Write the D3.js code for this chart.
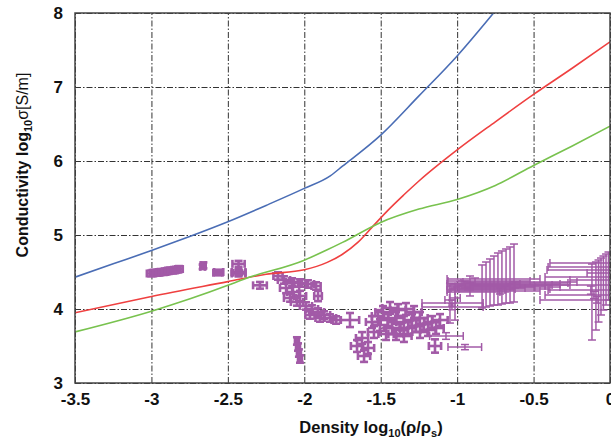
<!DOCTYPE html>
<html>
<head>
<meta charset="utf-8">
<script src="https://cdn.jsdelivr.net/npm/d3@7"></script>
<style>
  body { margin: 0; background: #fff; }
  text { font-family: "Liberation Sans", Arial, Helvetica, sans-serif; }
</style>
</head>
<body>
<svg id="chart"></svg>
<script>
// model curves: log10 density vs log10 conductivity
const blueDensity = [-3.5, -3.25, -3, -2.75, -2.5, -2.25, -2, -1.83, -1.75, -1.5, -1.25, -1, -0.75];
const blueCond = [4.43, 4.61, 4.79, 4.98, 5.18, 5.40, 5.63, 5.80, 5.93, 6.35, 6.88, 7.42, 8.03];

const redDensity = [-3.5, -3, -2.5, -2.25, -2, -1.85, -1.75, -1.65, -1.55, -1.45, -1.35, -1.25, -1, -0.75, -0.5, -0.25, 0];
const redCond = [3.95, 4.17, 4.37, 4.47, 4.53, 4.63, 4.74, 4.90, 5.12, 5.34, 5.54, 5.73, 6.15, 6.53, 6.90, 7.25, 7.61];

const greenDensity = [-3.5, -3, -2.5, -2.4, -2, -1.85, -1.75, -1.5, -1.25, -1, -0.75, -0.5, -0.25, 0];
const greenCond = [3.69, 3.97, 4.32, 4.40, 4.66, 4.80, 4.90, 5.17, 5.35, 5.48, 5.67, 5.94, 6.20, 6.47];

// measurements with small symmetric errors: [x, y, dx, dy]
const clusterPoints = [
  [-3.00, 4.48, 0.03, 0.04], [-2.98, 4.49, 0.03, 0.04], [-2.96, 4.49, 0.03, 0.04],
  [-2.94, 4.50, 0.03, 0.04], [-2.92, 4.50, 0.03, 0.04], [-2.90, 4.51, 0.03, 0.04],
  [-2.88, 4.52, 0.03, 0.04], [-2.86, 4.52, 0.03, 0.04], [-2.84, 4.53, 0.03, 0.04],
  [-2.82, 4.54, 0.025, 0.04],
  [-2.66, 4.59, 0.015, 0.04], [-2.665, 4.57, 0.015, 0.03],
  [-2.565, 4.49, 0.03, 0.035], [-2.56, 4.50, 0.03, 0.03],
  [-2.43, 4.61, 0.04, 0.04],
  [-2.43, 4.48, 0.045, 0.04], [-2.43, 4.50, 0.045, 0.04], [-2.425, 4.49, 0.04, 0.03],
  [-2.29, 4.32, 0.045, 0.045],
  [-2.172, 4.446, 0.03, 0.05], [-2.133, 4.392, 0.04, 0.05], [-2.080, 4.365, 0.04, 0.05],
  [-2.028, 4.351, 0.04, 0.05], [-1.976, 4.338, 0.04, 0.05], [-1.923, 4.311, 0.03, 0.05],
  [-2.119, 4.284, 0.04, 0.07], [-2.074, 4.230, 0.04, 0.07], [-2.028, 4.176, 0.04, 0.07],
  [-2.093, 4.149, 0.04, 0.05], [-2.048, 4.095, 0.04, 0.05], [-1.910, 4.176, 0.025, 0.07],
  [-1.989, 4.041, 0.04, 0.05], [-1.950, 4.000, 0.04, 0.05], [-1.910, 3.959, 0.04, 0.05],
  [-1.871, 3.919, 0.04, 0.05], [-1.832, 3.878, 0.04, 0.05], [-1.792, 3.851, 0.03, 0.05],
  [-1.963, 3.919, 0.03, 0.05], [-1.897, 3.878, 0.03, 0.05],
  [-2.048, 3.568, 0.013, 0.05], [-2.041, 3.486, 0.013, 0.05],
  [-2.035, 3.405, 0.013, 0.05], [-2.028, 3.324, 0.013, 0.05],
  [-1.701, 3.851, 0.06, 0.095],
  [-1.622, 3.608, 0.04, 0.08], [-1.583, 3.473, 0.04, 0.08], [-1.655, 3.500, 0.04, 0.08],
  [-1.609, 3.365, 0.04, 0.08], [-1.544, 3.689, 0.04, 0.08], [-1.557, 3.824, 0.04, 0.08],
  [-1.518, 3.905, 0.04, 0.08],
  [-1.485, 3.959, 0.05, 0.08], [-1.439, 4.014, 0.05, 0.08], [-1.387, 3.986, 0.05, 0.08],
  [-1.335, 4.000, 0.05, 0.08], [-1.282, 3.959, 0.05, 0.08], [-1.452, 3.851, 0.05, 0.08],
  [-1.400, 3.878, 0.05, 0.08], [-1.348, 3.824, 0.05, 0.08], [-1.295, 3.851, 0.05, 0.08],
  [-1.243, 3.878, 0.05, 0.08], [-1.426, 3.743, 0.05, 0.08], [-1.374, 3.716, 0.05, 0.08],
  [-1.321, 3.743, 0.05, 0.08], [-1.269, 3.770, 0.05, 0.08], [-1.217, 3.797, 0.05, 0.08],
  [-1.164, 3.824, 0.05, 0.08], [-1.465, 3.662, 0.05, 0.08], [-1.400, 3.662, 0.05, 0.08],
  [-1.348, 3.635, 0.05, 0.08], [-1.243, 3.689, 0.05, 0.08], [-1.191, 3.716, 0.05, 0.08],
  [-1.138, 3.743, 0.05, 0.08], [-1.112, 3.851, 0.05, 0.08], [-1.505, 3.784, 0.05, 0.08],
  [-1.145, 3.50, 0.04, 0.09]
];

// measurements with wide / asymmetric errors: [x, y, xlo, xhi, ylo, yhi]
const wideBars = [
  [-1.034, 4.081, -1.23, -0.83, 4.04, 4.12],
  [-1.034, 4.027, -1.23, -0.83, 3.99, 4.07],
  [-1.047, 4.122, -1.08, -1.01, 3.81, 4.35],
  [-1.014, 4.149, -1.05, -0.98, 3.85, 4.34],
  [-1.073, 3.635, -1.18, -0.96, 3.59, 3.68],
  [-0.949, 3.486, -1.06, -0.84, 3.45, 3.52],
  [-0.837, 4.257, -1.066, -0.687, 4.014, 4.595],
  [-0.811, 4.270, -1.053, -0.621, 4.027, 4.635],
  [-0.785, 4.284, -1.040, -0.556, 4.041, 4.676],
  [-0.759, 4.297, -1.027, -0.491, 4.054, 4.716],
  [-0.733, 4.311, -1.014, -0.425, 4.054, 4.757],
  [-0.707, 4.324, -1.001, -0.379, 4.068, 4.784],
  [-0.680, 4.338, -0.988, -0.327, 4.081, 4.811],
  [-0.654, 4.351, -0.975, -0.275, 4.081, 4.838],
  [-0.628, 4.365, -0.962, -0.216, 4.095, 4.878],
  [-0.916, 4.230, -1.066, -0.720, 4.176, 4.284],
  [-0.916, 4.405, -1.066, -0.458, 4.351, 4.446],
  [-0.883, 4.378, -1.060, -0.523, 4.324, 4.419],
  [-0.949, 4.338, -1.066, -0.589, 4.284, 4.378],
  [-0.916, 4.311, -1.066, -0.654, 4.257, 4.351],
  [-0.720, 4.243, -1.014, -0.458, 4.203, 4.284],
  [-0.687, 4.270, -0.988, -0.393, 4.230, 4.311],
  [-0.654, 4.297, -0.949, -0.327, 4.257, 4.338],
  [-0.621, 4.324, -0.916, -0.262, 4.284, 4.365],
  [-0.010, 4.622, -0.393, 0.30, 4.122, 4.770],
  [-0.026, 4.568, -0.405, 0.30, 4.054, 4.743],
  [-0.043, 4.527, -0.412, 0.30, 3.986, 4.716],
  [-0.059, 4.486, -0.150, 0.30, 3.919, 4.689],
  [-0.075, 4.432, -0.425, 0.30, 3.824, 4.662],
  [-0.092, 4.392, -0.262, 0.30, 3.716, 4.635],
  [-0.118, 4.324, -0.425, 0.30, 3.581, 4.608],
  [-0.125, 4.257, -0.405, 0.30, 4.20, 4.31],
  [-0.105, 4.189, -0.425, 0.30, 4.14, 4.24],
  [-0.085, 4.122, -0.458, 0.30, 4.08, 4.17]
];

const xTicks = [-3.5, -3, -2.5, -2, -1.5, -1, -0.5, 0];
const xTickLabels = ["-3.5", "-3", "-2.5", "-2", "-1.5", "-1", "-0.5", "0"];
const yTicks = [3, 4, 5, 6, 7, 8];

// <========== size / margin ==========>
const width = 611, height = 440;
const margin = { top: 13, right: 1, bottom: 57, left: 75 };
const innerWidth = width - margin.left - margin.right;
const innerHeight = height - margin.top - margin.bottom;

const x = d3.scaleLinear().domain([-3.5, 0]).range([0, innerWidth]);
const y = d3.scaleLinear().domain([3, 8]).range([innerHeight, 0]);

const svg = d3.select("#chart").attr("width", width).attr("height", height);

svg.append("defs").append("clipPath").attr("id", "plotclip")
  .append("rect").attr("width", innerWidth).attr("height", innerHeight);

const g = svg.append("g").attr("transform", `translate(${margin.left},${margin.top})`);

// grid + tick labels
const xAxisG = g.append("g").attr("transform", `translate(0,${innerHeight})`)
  .call(d3.axisBottom(x).tickValues(xTicks).tickFormat((d, i) => xTickLabels[i])
    .tickSize(-innerHeight).tickPadding(10));
const yAxisG = g.append("g")
  .call(d3.axisLeft(y).tickValues(yTicks).tickFormat(d3.format("d"))
    .tickSize(-innerWidth).tickPadding(12));

[xAxisG, yAxisG].forEach(ax => {
  ax.select(".domain").remove();
  ax.selectAll(".tick line")
    .attr("stroke", "#333").attr("stroke-width", 1)
    .attr("stroke-dasharray", "6,2,1.5,2");
  ax.selectAll(".tick text")
    .attr("fill", "#111").style("font-size", "17px").style("font-weight", "bold")
    .style("font-family", '"Liberation Sans", Arial, sans-serif');
});

// data layer
const plot = g.append("g").attr("clip-path", "url(#plotclip)");

const purple = "#a25aa7";
const cap = 4;

const drawBar = (sel, x1, y1, x2, y2, sw) => {
  sel.append("line").attr("x1", x1).attr("y1", y1).attr("x2", x2).attr("y2", y2)
    .attr("stroke", purple).attr("stroke-width", sw);
};

const drawErr = (sel, d, sw) => {
  const [px, py, xlo, xhi, ylo, yhi] = d;
  const cx = x(px), cy = y(py);
  const l = x(xlo), r = x(xhi), t = y(yhi), b = y(ylo);
  drawBar(sel, l, cy, r, cy, sw);
  drawBar(sel, l, cy - cap, l, cy + cap, sw);
  drawBar(sel, r, cy - cap, r, cy + cap, sw);
  drawBar(sel, cx, t, cx, b, sw);
  drawBar(sel, cx - cap, t, cx + cap, t, sw);
  drawBar(sel, cx - cap, b, cx + cap, b, sw);
};

const wideG = plot.append("g").attr("class", "wide-bars");
wideBars.forEach(d => drawErr(wideG, d, 1.5));

const clusterG = plot.append("g").attr("class", "cluster");
clusterPoints.forEach(([px, py, dx, dy]) =>
  drawErr(clusterG, [px, py, px - dx, px + dx, py - dy, py + dy], 2.6));

// model curves
const line = d3.line().x(d => x(d[0])).y(d => y(d[1])).curve(d3.curveMonotoneX);
const curves = [
  { xs: blueDensity, ys: blueCond, color: "#4a6db5" },
  { xs: redDensity, ys: redCond, color: "#ef4040" },
  { xs: greenDensity, ys: greenCond, color: "#78c24e" }
];
curves.forEach(c => {
  plot.append("path")
    .datum(c.xs.map((v, i) => [v, c.ys[i]]))
    .attr("fill", "none").attr("stroke", c.color).attr("stroke-width", 1.6)
    .attr("d", line);
});

// border
g.append("rect").attr("width", innerWidth).attr("height", innerHeight)
  .attr("fill", "none").attr("stroke", "#444").attr("stroke-width", 1.5);

// axis titles
const xTitle = svg.append("text")
  .attr("x", 371).attr("y", 433).attr("text-anchor", "middle")
  .attr("fill", "#111").style("font-size", "16.5px").style("font-weight", "bold");
xTitle.append("tspan").text("Density log");
xTitle.append("tspan").attr("dy", 4).style("font-size", "11px").text("10");
xTitle.append("tspan").attr("dy", -4).text("(ρ/ρ");
xTitle.append("tspan").attr("dy", 4).style("font-size", "11px").text("s");
xTitle.append("tspan").attr("dy", -4).text(")");

const yTitle = svg.append("text")
  .attr("transform", "translate(28,165) rotate(-90)").attr("text-anchor", "middle")
  .attr("fill", "#111").style("font-size", "16px").style("font-weight", "bold");
yTitle.append("tspan").text("Conductivity log");
yTitle.append("tspan").attr("dy", 4).style("font-size", "11px").text("10");
yTitle.append("tspan").attr("dy", -4).style("font-weight", "normal").text("σ[S/m]");
</script>
</body>
</html>
